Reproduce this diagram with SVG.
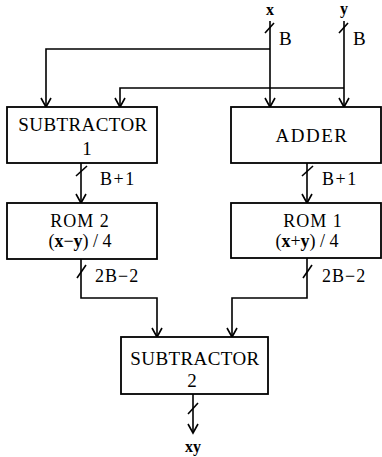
<svg xmlns="http://www.w3.org/2000/svg" width="382" height="457" viewBox="0 0 382 457">
<style>
.box{fill:#fff;stroke:#000;stroke-width:1.8}
.ln{fill:none;stroke:#000;stroke-width:1.6}
.sl{stroke:#000;stroke-width:1.6}
.t{font-family:"Liberation Serif","Times New Roman",serif;font-size:19px;fill:#000}
.l{font-size:18px}
.s{font-size:16px}
.c{text-anchor:middle}
.b{font-weight:bold}
</style>
<defs>
<marker id="arr" viewBox="-11 -7 13 14" refX="0" refY="0" markerWidth="13" markerHeight="14" orient="auto" markerUnits="userSpaceOnUse">
<path d="M-9,-5 L0,0 L-9,5" fill="none" stroke="#000" stroke-width="1.6"/>
</marker>
</defs>
<g id="connectors">
<path class="ln" d="M270,21 V107" marker-end="url(#arr)"/>
<path class="ln" d="M270,49 H46 V107" marker-end="url(#arr)"/>
<path class="ln" d="M344,21 V107" marker-end="url(#arr)"/>
<path class="ln" d="M344,88 H120 V107" marker-end="url(#arr)"/>
<path class="ln" d="M81,163 V203" marker-end="url(#arr)"/>
<path class="ln" d="M307,163 V203" marker-end="url(#arr)"/>
<path class="ln" d="M81,259 V298 H157 V337" marker-end="url(#arr)"/>
<path class="ln" d="M307,258 V298 H232 V337" marker-end="url(#arr)"/>
<path class="ln" d="M193,394 V433" marker-end="url(#arr)"/>
<line class="sl" x1="265" y1="33" x2="274" y2="23"/>
<line class="sl" x1="339" y1="33" x2="348" y2="23"/>
<line class="sl" x1="76" y1="176" x2="87" y2="166"/>
<line class="sl" x1="302" y1="176" x2="313" y2="166"/>
<line class="sl" x1="77" y1="278" x2="86" y2="265"/>
<line class="sl" x1="303" y1="278" x2="312" y2="265"/>
<line class="sl" x1="188" y1="414" x2="198" y2="403"/>
<text class="t s b c" x="270" y="15">x</text>
<text class="t s b c" x="344" y="14">y</text>
<text class="t" x="279" y="45">B</text>
<text class="t" x="353" y="45">B</text>
<text class="t l" x="100" y="185" letter-spacing="1.5">B+1</text>
<text class="t l" x="322" y="185" letter-spacing="1.5">B+1</text>
<text class="t l" x="95" y="282" letter-spacing="1">2B−2</text>
<text class="t l" x="322" y="282" letter-spacing="1">2B−2</text>
<text class="t s b c" x="193" y="452">xy</text>
</g>
<g id="subtractor1">
<rect class="box" x="7" y="107" width="150" height="56"/>
<text class="t c" x="83" y="131" letter-spacing="0.4">SUBTRACTOR</text>
<text class="t c" x="87" y="155">1</text>
</g>
<g id="adder">
<rect class="box" x="231" y="107" width="150" height="56"/>
<text class="t c" x="312" y="142" letter-spacing="1.5">ADDER</text>
</g>
<g id="rom2">
<rect class="box" x="7" y="203" width="150" height="56"/>
<text class="t l c" x="80" y="227" letter-spacing="1">ROM 2</text>
<text class="t l c" x="80" y="247">(<tspan class="b">x</tspan>−<tspan class="b">y</tspan>) / 4</text>
</g>
<g id="rom1">
<rect class="box" x="231" y="203" width="150" height="55"/>
<text class="t l c" x="313" y="227" letter-spacing="1">ROM 1</text>
<text class="t l c" x="307" y="247">(<tspan class="b">x</tspan>+<tspan class="b">y</tspan>) / 4</text>
</g>
<g id="subtractor2">
<rect class="box" x="121" y="337" width="147" height="57"/>
<text class="t c" x="195" y="365" letter-spacing="0.4">SUBTRACTOR</text>
<text class="t c" x="192" y="387">2</text>
</g>
</svg>
